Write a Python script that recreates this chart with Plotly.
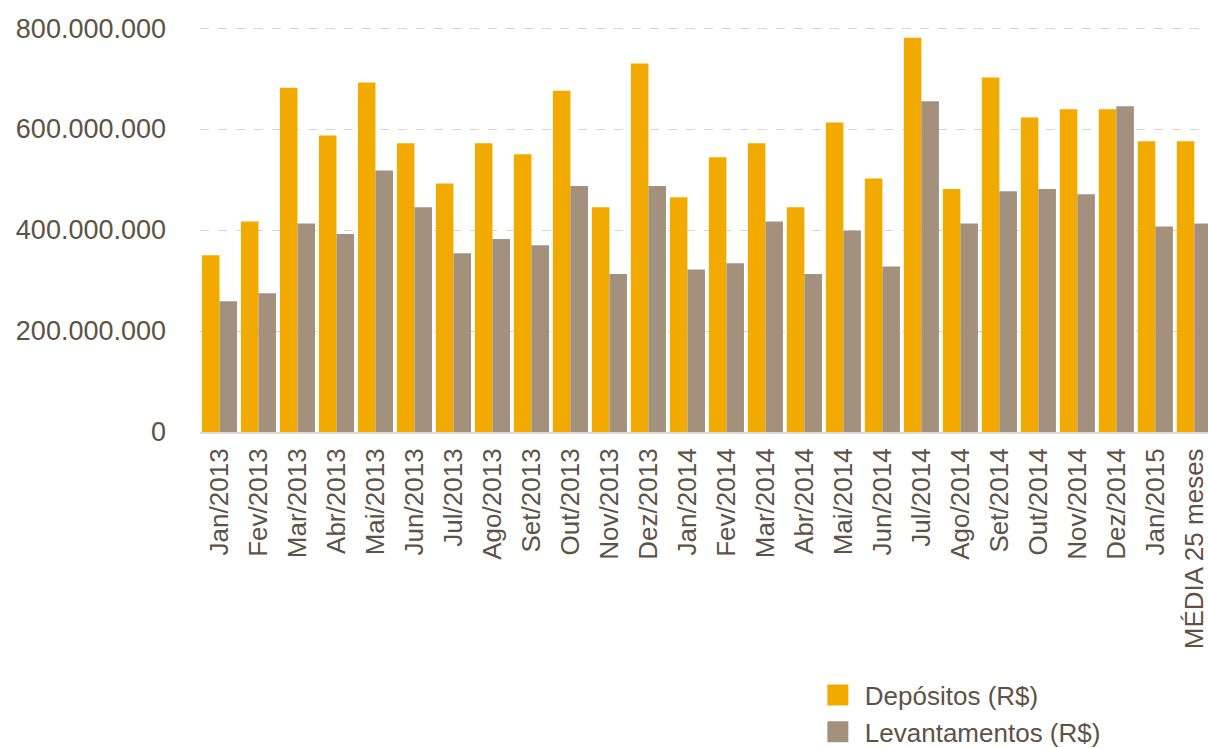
import plotly.graph_objects as go

categories = ["Jan/2013", "Fev/2013", "Mar/2013", "Abr/2013", "Mai/2013", "Jun/2013",
              "Jul/2013", "Ago/2013", "Set/2013", "Out/2013", "Nov/2013", "Dez/2013",
              "Jan/2014", "Fev/2014", "Mar/2014", "Abr/2014", "Mai/2014", "Jun/2014",
              "Jul/2014", "Ago/2014", "Set/2014", "Out/2014", "Nov/2014", "Dez/2014",
              "Jan/2015", "MÉDIA 25 meses"]

depositos = [350e6, 417e6, 682e6, 587e6, 692e6, 572e6,
             492e6, 572e6, 550e6, 676e6, 445e6, 730e6,
             465e6, 544e6, 572e6, 445e6, 613e6, 502e6,
             781e6, 481e6, 702e6, 623e6, 639e6, 639e6,
             576e6, 576e6]

levantamentos = [259e6, 275e6, 413e6, 392e6, 518e6, 445e6,
                 354e6, 382e6, 370e6, 487e6, 313e6, 487e6,
                 322e6, 334e6, 417e6, 313e6, 399e6, 328e6,
                 655e6, 413e6, 477e6, 481e6, 471e6, 645e6,
                 407e6, 413e6]

series_names = ["Depósitos (R$)", "Levantamentos (R$)"]
y_ticks = [0, 200e6, 400e6, 600e6, 800e6]

COL_DEP = "#f2a900"
COL_LEV = "#a3917e"
TXT = "#5e5245"
FONT = "Liberation Sans, Arial, sans-serif"

fig = go.Figure()
fig.add_trace(go.Bar(x=categories, y=depositos, name=series_names[0],
                     marker=dict(color=COL_DEP, line=dict(width=0)), showlegend=False))
fig.add_trace(go.Bar(x=categories, y=levantamentos, name=series_names[1],
                     marker=dict(color=COL_LEV, line=dict(width=0)), showlegend=False))
# legend entries with larger square swatches
for nm, col in zip(series_names, [COL_DEP, COL_LEV]):
    fig.add_trace(go.Scatter(x=[None], y=[None], mode="markers", name=nm,
                             marker=dict(symbol="square", size=16, color=col,
                                         line=dict(color=col, width=11))))

fig.update_layout(
    width=1208, height=748,
    margin=dict(l=200, r=0, t=23, b=316, autoexpand=False),
    paper_bgcolor="white", plot_bgcolor="white",
    barmode="group", bargap=0.1, bargroupgap=0.0,
    separators=",.",
    font=dict(family=FONT, size=26, color=TXT),
    legend=dict(x=0.606, y=-0.586, xanchor="left", yanchor="top",
                font=dict(family=FONT, size=26, color=TXT),
                bgcolor="rgba(0,0,0,0)", tracegroupgap=0, itemsizing="trace",
                itemwidth=44),
    xaxis=dict(type="category", range=[-0.5, 25.35], tickangle=-90,
               showgrid=False, showline=True, linecolor="#ddd8d3", linewidth=2,
               ticks="", ticklabelstandoff=4, automargin=False,
               tickfont=dict(family=FONT, size=26, color=TXT)),
    yaxis=dict(range=[0, 8.1e8], tickvals=y_ticks, tickformat=",d",
               showgrid=True, gridcolor="#d8d3ce", griddash="dash", gridwidth=1,
               zeroline=False, showline=False, ticks="", ticklabelstandoff=33,
               automargin=False,
               tickfont=dict(family=FONT, size=27, color=TXT)),
)

fig.write_html("out.html", config={"displayModeBar": False},
               post_script="document.body.style.margin='0';document.body.style.overflow='hidden';")
